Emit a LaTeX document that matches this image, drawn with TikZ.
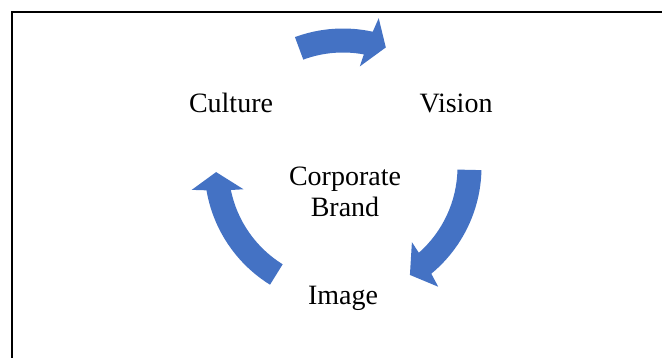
\documentclass[tikz,border=0pt]{standalone}
\usepackage{fontspec}
\setmainfont{Liberation Serif}
\definecolor{arrowblue}{HTML}{4472C4}
\tikzset{
  cycarrow/.style={fill=arrowblue, draw=none},
  lbl/.style={font=\fontsize{28}{31}\selectfont, inner sep=0pt, text=black},
  frameline/.style={line width=2.4pt, draw=black, line join=miter}
}
% #1 tail angle, #2 head base angle, #3 tip angle (clockwise arrow)
\newcommand\cyclearrow[3]{%
  \fill[cycarrow] (#1:138.5) arc[start angle=#1, end angle={#2-0.9}, radius=138.5]
    -- ({#2-2}:153) -- (#3:127) -- ({#2+2}:102) -- ({#2+1}:114.5)
    arc[start angle={#2+1}, end angle=#1, radius=114.5] -- cycle;}
\begin{document}
\begin{tikzpicture}[x=1pt,y=1pt]
  \useasboundingbox (0,0) rectangle (662,358);
  \fill[white] (0,0) rectangle (662,358);
  \draw[frameline] (12.2,0) -- (12.2,346) -- (662,346);
  % labels
  \node[lbl, anchor=base] (culture) at (231,245) {Culture};
  \node[lbl, anchor=base] (vision) at (456,245) {Vision};
  \node[lbl, align=center] (brand) at (345,166) {Corporate\\Brand};
  \node[lbl, anchor=base] (image) at (343,53) {Image};
  % cycle arrows
  \begin{scope}[shift={(343,191)}]
    \cyclearrow{110.3}{78.5}{70.3}
    \cyclearrow{-1.3}{-49.5}{-58.2}
    \cyclearrow{238.2}{190.6}{182.3}
  \end{scope}
\end{tikzpicture}
\end{document}
